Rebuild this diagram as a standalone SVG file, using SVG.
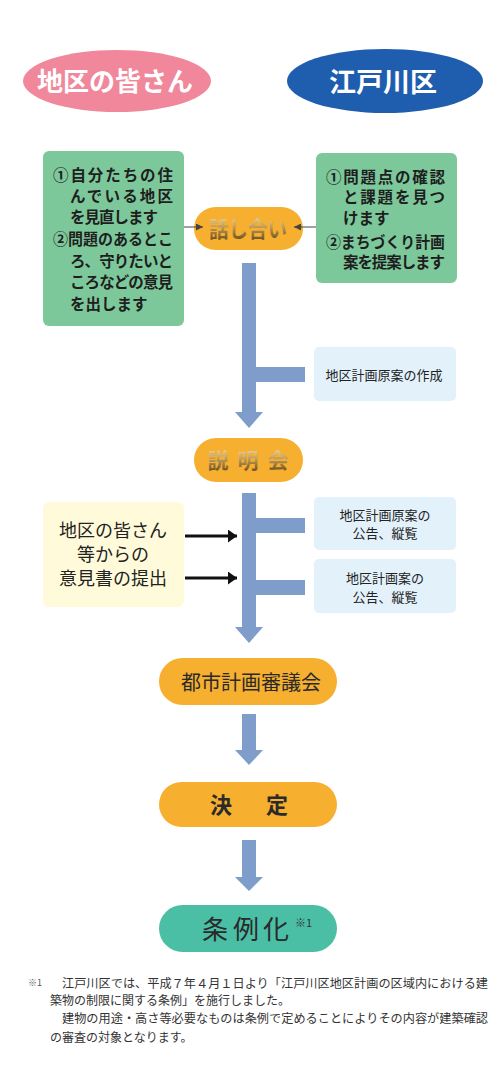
<svg xmlns="http://www.w3.org/2000/svg" width="500" height="1067" viewBox="0 0 500 1067">
<defs>
<style>
text{font-family:"Noto Sans CJK JP","Noto Sans CJK SC",sans-serif;}
.hd{fill:#fff;font-weight:bold;text-anchor:middle;}
.gb{fill:#7DC89B;}
.gt{fill:#1e1e1e;font-size:15.5px;font-weight:bold;}
.lb{fill:#E3F1FB;}
.lt{fill:#222;font-size:13px;text-anchor:middle;}
.or{fill:#F6AF2E;}
.gold{fill:url(#goldg);font-weight:bold;text-anchor:middle;}
.pt{fill:#2a2a2a;text-anchor:middle;}
.bar{fill:#7E9DCA;}
.fn{fill:#333;font-size:12px;}
.yt{fill:#222;font-size:18px;text-anchor:middle;}
</style>
<linearGradient id="goldg" x1="0" y1="0" x2="0" y2="1">
<stop offset="0" stop-color="#FBEFC8"/>
<stop offset="0.45" stop-color="#C9A460"/>
<stop offset="1" stop-color="#5A3F15"/>
</linearGradient>
<marker id="sa" viewBox="0 0 10 10" refX="10" refY="5" markerWidth="7" markerHeight="7" markerUnits="userSpaceOnUse" orient="auto">
<path d="M0,0 L10,5 L0,10 z" fill="#444"/>
</marker>
<marker id="ba" viewBox="0 0 9 13" refX="9" refY="6.5" markerWidth="9" markerHeight="13" markerUnits="userSpaceOnUse" orient="auto">
<path d="M0,0 L9,6.5 L0,13 z" fill="#111"/>
</marker>
</defs>
<rect width="500" height="1067" fill="#fff"/>

<g id="residents">
<ellipse cx="117" cy="81" rx="94" ry="31" fill="#F1879B"/>
<text class="hd" x="115" y="91" font-size="26">地区の皆さん</text>
</g>
<g id="edogawa">
<ellipse cx="385" cy="81" rx="98" ry="32" fill="#1F5DAE"/>
<text class="hd" x="383" y="92" font-size="27">江戸川区</text>
</g>

<g id="resident-tasks">
<rect class="gb" x="43" y="151" width="141" height="175" rx="6"/>
<text class="gt" x="53" y="181" textLength="120" lengthAdjust="spacing">①自分たちの住</text>
<text class="gt" x="70" y="202" textLength="103" lengthAdjust="spacing">んでいる地区</text>
<text class="gt" x="70" y="223" textLength="88" lengthAdjust="spacing">を見直します</text>
<text class="gt" x="53" y="245" textLength="120" lengthAdjust="spacingAndGlyphs">②問題のあるとこ</text>
<text class="gt" x="70" y="267" textLength="103" lengthAdjust="spacing">ろ、守りたいと</text>
<text class="gt" x="70" y="288" textLength="103" lengthAdjust="spacing">ころなどの意見</text>
<text class="gt" x="70" y="310">を出します</text>
</g>

<g id="ward-tasks">
<rect class="gb" x="316" y="153" width="141" height="130" rx="6"/>
<text class="gt" x="326" y="183" textLength="119" lengthAdjust="spacing">①問題点の確認</text>
<text class="gt" x="343" y="203" textLength="102" lengthAdjust="spacing">と課題を見つ</text>
<text class="gt" x="343" y="224">けます</text>
<text class="gt" x="326" y="248" textLength="119" lengthAdjust="spacingAndGlyphs">②まちづくり計画</text>
<text class="gt" x="343" y="268" textLength="102" lengthAdjust="spacing">案を提案します</text>
</g>

<g id="discussion">
<rect class="or" x="194" y="207" width="109" height="43" rx="21.5"/>
<text class="gold" x="248" y="237" font-size="22" textLength="78" lengthAdjust="spacingAndGlyphs">話し合い</text>
</g>

<g id="draft">
<rect class="lb" x="314" y="347" width="142" height="54" rx="5"/>
<text class="lt" x="384" y="380">地区計画原案の作成</text>
</g>

<g id="briefing">
<rect class="or" x="194" y="438" width="109" height="44" rx="22"/>
<text class="gold" x="218 248 278" y="468" font-size="21">説明会</text>
</g>

<g id="opinions">
<rect x="43" y="502" width="141" height="105" rx="6" fill="#FFFBDA"/>
<text class="yt" x="113" y="537">地区の皆さん</text>
<text class="yt" x="113" y="561">等からの</text>
<text class="yt" x="113" y="585">意見書の提出</text>
</g>

<g id="draft-notice">
<rect class="lb" x="314" y="497" width="142" height="53" rx="5"/>
<text class="lt" x="385" y="520">地区計画原案の</text>
<text class="lt" x="385" y="538">公告、縦覧</text>
</g>

<g id="plan-notice">
<rect class="lb" x="314" y="559" width="142" height="54" rx="5"/>
<text class="lt" x="385" y="583">地区計画案の</text>
<text class="lt" x="385" y="602">公告、縦覧</text>
</g>

<g id="council">
<rect class="or" x="159" y="658" width="178" height="47" rx="23.5"/>
<text class="pt" x="251" y="690" font-size="20">都市計画審議会</text>
</g>

<g id="decision">
<rect class="or" x="159" y="782" width="178" height="45" rx="22.5"/>
<text class="pt" x="221 277" y="813" font-size="22" font-weight="bold">決定</text>
</g>

<g id="ordinance">
<rect x="159" y="905" width="178" height="47" rx="23.5" fill="#4ABFA6"/>
<text class="pt" x="215 246 276" y="939" font-size="26">条例化</text>
<text x="295" y="927" font-size="11" fill="#333">※1</text>
</g>

<g id="connectors">
<line x1="184" y1="227" x2="203" y2="227" stroke="#444" stroke-width="1" marker-end="url(#sa)"/>
<line x1="316" y1="227" x2="294" y2="227" stroke="#444" stroke-width="1" marker-end="url(#sa)"/>
<path class="bar" d="M242,263 H256 V367 H305 V382 H256 V412 H263 L249,428 L235,412 H242 Z"/>
<path class="bar" d="M242,493 H256 V518 H305 V533 H256 V580 H305 V595 H256 V627 H263 L249,643 L235,627 H242 Z"/>
<path class="bar" d="M242,714 H256 V750 H263 L249,765 L235,750 H242 Z"/>
<path class="bar" d="M242,840 H256 V877 H263 L249,891 L235,877 H242 Z"/>
<line x1="185" y1="536" x2="237" y2="536" stroke="#111" stroke-width="3" marker-end="url(#ba)"/>
<line x1="185" y1="578" x2="237" y2="578" stroke="#111" stroke-width="3" marker-end="url(#ba)"/>
</g>

<g id="footnote">
<text x="28" y="986" font-size="9" fill="#555">※1</text>
<text class="fn" x="62" y="988" textLength="426" lengthAdjust="spacingAndGlyphs">江戸川区では、平成７年４月１日より「江戸川区地区計画の区域内における建</text>
<text class="fn" x="50" y="1005">築物の制限に関する条例」を施行しました。</text>
<text class="fn" x="62" y="1023" textLength="426" lengthAdjust="spacingAndGlyphs">建物の用途・高さ等必要なものは条例で定めることによりその内容が建築確認</text>
<text class="fn" x="50" y="1042">の審査の対象となります。</text>
</g>
</svg>
